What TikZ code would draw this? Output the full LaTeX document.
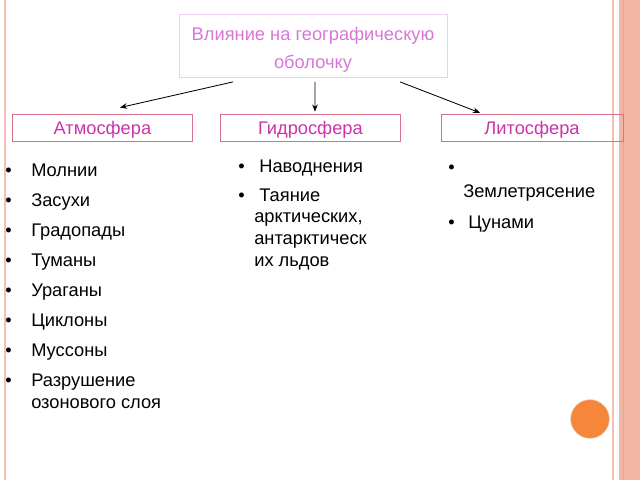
\documentclass[tikz,border=0pt]{standalone}
\usepackage{fontspec}
\setmainfont{Liberation Sans}
\usepackage{xcolor}
\definecolor{TitlePink}{RGB}{216,118,216}
\definecolor{TitleFrame}{RGB}{238,205,238}
\definecolor{BoxFrame}{RGB}{214,112,134}
\definecolor{BoxText}{RGB}{204,51,170}
\definecolor{EdgeSalmon}{RGB}{244,192,180}
\definecolor{BandSalmon}{RGB}{243,182,164}
\definecolor{DotOrange}{RGB}{245,134,58}
\usepackage{tikz}
\usetikzlibrary{
    arrows.meta,
    positioning,
    calc
}
\tikzset{
    sphere/.style={
        draw=BoxFrame,
        line width=0.6pt,
        text=BoxText,
        minimum width=4.5cm,
        minimum height=0.675cm,
        inner sep=0pt,
        text depth=0pt,
        font=\fontsize{13}{15}\selectfont
    },
    entry/.style={
        anchor=base west,
        inner sep=0pt,
        font=\fontsize{13}{15}\selectfont
    },
    link/.style={
        -{Stealth[length=5pt,width=4pt]},
        line width=0.6pt
    }
}
\newcommand{\bul}[1]{\llap{\makebox[#1][l]{\textbullet}}}

\begin{document}
\begin{tikzpicture}[x=0.025cm,y=-0.025cm]
%
    \useasboundingbox (0,0) rectangle (640,480);
%
    % slide frame on both sides
%
    \draw[
        EdgeSalmon,
        line width=1.4pt
    ]
    (5,0)
    --
    (5,480);
%
    \draw[
        EdgeSalmon,
        line width=0.8pt
    ]
    (613,0)
    --
    (613,480);
%
    \fill[
        BandSalmon
    ]
    (619,0)
    rectangle
    (640,480);
%
    \draw[
        EdgeSalmon!70!BandSalmon!90!black,
        line width=0.6pt
    ]
    (623,0)
    --
    (623,480);
%
    \fill[
        DotOrange,
        draw=DotOrange!80!black!40!white,
        line width=0.4pt
    ]
    (590,419)
    circle
    (19.3);
%
    % heading and the three spheres
%
    \node[
        draw=TitleFrame,
        line width=0.6pt,
        text=TitlePink,
        minimum width=6.7cm,
        minimum height=1.425cm,
        align=center,
        font=\fontsize{13}{20.6}\selectfont
    ]
    (title) at (313,46) {
        \rule{0pt}{14.8pt}Влияние на географическую\\оболочку
    };
%
    \node[
        sphere
    ]
    (atm) at (102.4,127.5) {
        Атмосфера
    };
%
    \node[
        sphere
    ]
    (hyd) at (310.4,127.5) {
        Гидросфера
    };
%
    \node[
        sphere,
        minimum width=4.55cm
    ]
    (lit) at (532,127.5) {
        Литосфера
    };
%
    \draw[
        link
    ]
    ([xshift=-2cm,yshift=-0.1cm]title.south)
    --
    ([xshift=0.44cm,yshift=0.15cm]atm.north);
%
    \draw[
        link
    ]
    ([xshift=0.05cm,yshift=-0.1cm]title.south)
    --
    ([xshift=0.115cm,yshift=0.05cm]hyd.north);
%
    \draw[
        link
    ]
    ([xshift=2.175cm,yshift=-0.1cm]title.south)
    --
    ([xshift=-1.3cm,yshift=0.02cm]lit.north);
%
    % atmosphere list
%
    \foreach \word [count=\i] in {
        Молнии,
        Засухи,
        Градопады,
        Туманы,
        Ураганы,
        Циклоны,
        Муссоны
    }{
        \node[
            entry
        ]
        (atm\i) at (31,146+30*\i) {
            \bul{0.65cm}\word
        };
    }
%
    % base of a wrapped entry is its last line
    \node[
        entry,
        align=left,
        font=\fontsize{13}{15.6}\selectfont
    ]
    (atm8) at (31,408) {
        \bul{0.65cm}Разрушение\\озонового слоя
    };
%
    % hydrosphere list
%
    \node[
        entry
    ]
    (hyd1) at (254,172) {
        \bul{0.4cm}\ Наводнения
    };
%
    \node[
        entry,
        align=left,
        font=\fontsize{13}{15.3}\selectfont
    ]
    (hyd2) at (254,266) {
        \bul{0.4cm}\ Таяние\\арктических,\\антарктическ\\их льдов
    };
%
    % lithosphere list
%
    \node[
        entry
    ]
    (lit0) at (448,173) {
        \textbullet
    };
%
    \node[
        entry
    ]
    (lit1) at (463,197) {
        Землетрясение
    };
%
    \node[
        entry
    ]
    (lit2) at (463,228) {
        \bul{0.375cm}\ Цунами
    };
%
\end{tikzpicture}
\end{document}
